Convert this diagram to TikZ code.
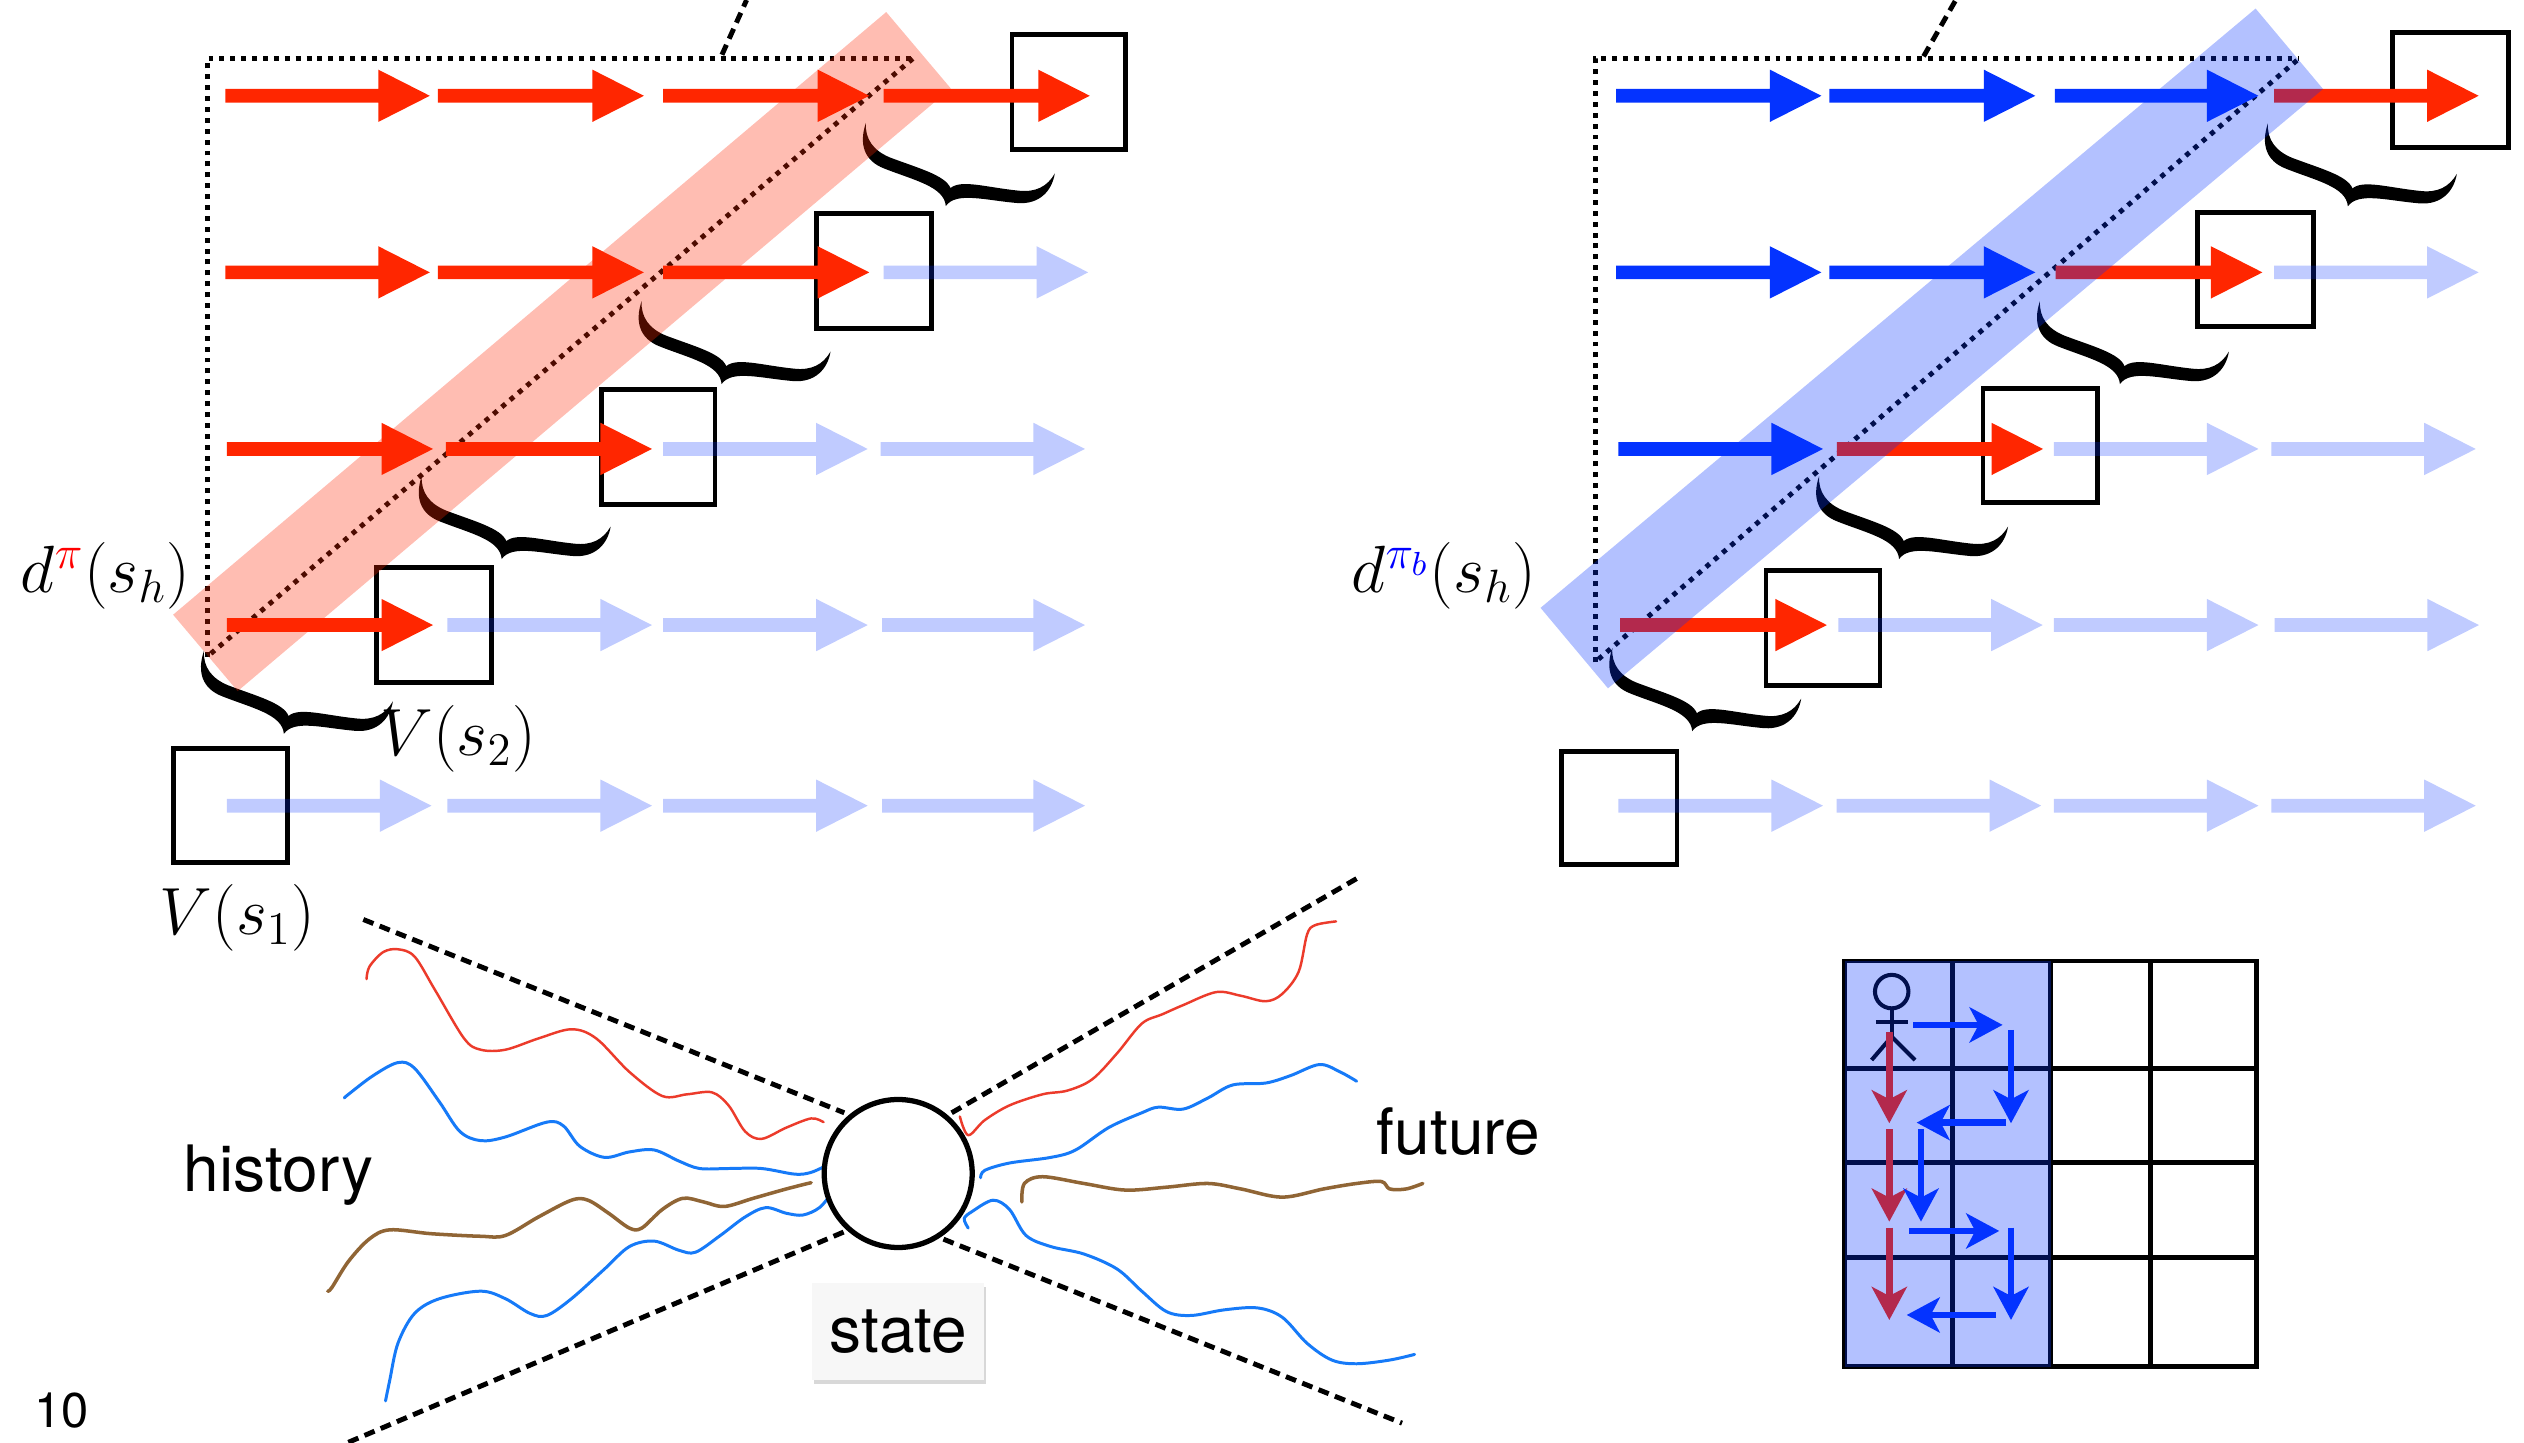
\documentclass[tikz,border=0pt]{standalone}
\usepackage{fix-cm}
\usepackage{fontspec}
\usetikzlibrary{arrows.meta,shadows}
\newfontfamily\heros{TeX Gyre Heros}

\definecolor{kred}{HTML}{FF2600}
\definecolor{kblue}{HTML}{0433FF}
\definecolor{wred}{HTML}{EC3B2B}
\definecolor{wblue}{HTML}{167AF8}
\definecolor{wbrown}{HTML}{906535}

% horizontal block arrow: style, start x, tip x, y
\newcommand{\harrow}[4]{%
  \fill[#1] (#2,{#4-4.25}) -- ({#3-32},{#4-4.25}) -- ({#3-32},{#4-16.25}) -- (#3,#4)
    -- ({#3-32},{#4+16.25}) -- ({#3-32},{#4+4.25}) -- (#2,{#4+4.25}) -- cycle;}

% heavy tilted curly brace, anchored at its upper tip
\newcommand{\curly}[2]{%
  \fill[black,shift={(#1,#2)},rotate=-14.5]
    (0,0) .. controls (-1,14) and (5,23) .. (18,24.5)
    .. controls (38,27) and (57,26) .. (61,37.5)
    .. controls (65,27) and (84,28) .. (104,24.5)
    .. controls (117,22) and (122.5,12) .. (121.5,1)
    .. controls (119,10) and (113,15.5) .. (102,17)
    .. controls (82,20) and (66,19) .. (61,26)
    .. controls (56,19) and (38,19) .. (20,17)
    .. controls (9,15.5) and (2,10) .. (0,0) -- cycle;}

\begin{document}
\begin{tikzpicture}[x=0.0161cm,y=-0.0161cm,
  vbox/.style={draw=black,line width=1.4pt},
  guide/.style={line width=1.4pt,dash pattern=on 1.4pt off 1.7pt},
  cone/.style={line width=1.4pt,dash pattern=on 3.1pt off 1.9pt},
  redfill/.style={fill=kred},
  bluefill/.style={fill=kblue},
  palefill/.style={fill=kblue,fill opacity=0.25},
  band/.style={opacity=0.3},
  mlabel/.style={inner sep=0pt,font=\fontsize{19}{21}\selectfont},
  slabel/.style={inner sep=0pt,font=\heros\fontsize{18.2}{20}\selectfont},
  gridline/.style={line width=1.35pt},
  garrow/.style={line width=1.9pt,-{Stealth[length=0.33cm,width=0.35cm,inset=0.09cm]}},
  wave/.style={line cap=round,line join=round},
]
\fill[white] (0,0) rectangle (1568,896);
\useasboundingbox (0,0) rectangle (1568,896);

% ---------------- left panel: rollouts of pi ----------------
\draw[vbox] (107.5,465) rectangle (178.6,536);
\draw[vbox] (233.7,352.7) rectangle (305.2,424);
\draw[vbox] (373.6,242.2) rectangle (444.2,313.5);
\draw[vbox] (507,132.5) rectangle (578.6,204);
\draw[vbox] (628.7,21.4) rectangle (699.3,92.6);

\curly{126.7}{404.3}
\curly{262}{295.7}
\curly{398.6}{187}
\curly{537.9}{76.4}

\draw[guide] (128.9,407.9) -- (128.9,36.3) -- (567.2,36.3);
\draw[guide] (131,406) -- (567.2,36.3);
\draw[cone] (448.5,34) -- (463.8,0);

\harrow{redfill}{140}{267}{59.5}
\harrow{redfill}{272}{400}{59.5}
\harrow{redfill}{412}{540}{59.5}
\harrow{redfill}{549}{677}{59.5}
\harrow{redfill}{140}{267}{169.2}
\harrow{redfill}{272}{400}{169.2}
\harrow{redfill}{412}{540}{169.2}
\harrow{palefill}{549}{676}{169.2}
\harrow{redfill}{141}{269}{278.9}
\harrow{redfill}{277}{405}{278.9}
\harrow{palefill}{412}{539}{278.9}
\harrow{palefill}{547}{674}{278.9}
\harrow{redfill}{141}{269}{388.3}
\harrow{palefill}{278}{405}{388.3}
\harrow{palefill}{412}{539}{388.3}
\harrow{palefill}{548}{674}{388.3}
\harrow{palefill}{141}{268}{500.5}
\harrow{palefill}{278}{405}{500.5}
\harrow{palefill}{412}{539}{500.5}
\harrow{palefill}{548}{674}{500.5}

\draw[band,draw=kred,line width=1cm] (127.6,405.6) -- (570.6,31.2);

\node[mlabel] (dpi) at (65.6,358) {$d^{\textcolor{red}{\pi}}(s_h)$};
\node[mlabel] (vtwo) at (284.7,458.7) {$V(s_2)$};
\node[mlabel] (vone) at (147.5,570) {$V(s_1)$};

% ---------------- right panel: rollouts of pi_b ----------------
\draw[vbox] (970,466.7) rectangle (1041.8,537.2);
\draw[vbox] (1097.1,354.5) rectangle (1167.9,425.7);
\draw[vbox] (1231.9,241.2) rectangle (1303.2,312.4);
\draw[vbox] (1365.2,131.8) rectangle (1437,203);
\draw[vbox] (1486.4,20.3) rectangle (1558.2,91.6);

\curly{1001.6}{402.6}
\curly{1130.1}{295.7}
\curly{1267.3}{187}
\curly{1408.9}{76.6}

\draw[guide] (990.9,411.5) -- (990.9,36.3) -- (1428.3,36.3);
\draw[guide] (993,409.5) -- (1428.3,36.3);
\draw[cone] (1195,35) -- (1215,0);

\harrow{bluefill}{1004}{1131.5}{59.5}
\harrow{bluefill}{1136.4}{1264.4}{59.5}
\harrow{bluefill}{1276.5}{1403}{59.5}
\harrow{redfill}{1412.8}{1539.8}{59.5}
\harrow{bluefill}{1004}{1131.5}{169.2}
\harrow{bluefill}{1136.4}{1264.4}{169.2}
\harrow{redfill}{1277}{1405.5}{169.2}
\harrow{palefill}{1412.8}{1539.8}{169.2}
\harrow{bluefill}{1005.4}{1132.5}{278.9}
\harrow{redfill}{1141.2}{1269.2}{278.9}
\harrow{palefill}{1276}{1403}{278.9}
\harrow{palefill}{1411}{1538}{278.9}
\harrow{redfill}{1006.4}{1134.9}{388.3}
\harrow{palefill}{1142}{1269}{388.3}
\harrow{palefill}{1276}{1403}{388.3}
\harrow{palefill}{1413}{1540}{388.3}
\harrow{palefill}{1005.4}{1132.5}{500.5}
\harrow{palefill}{1141}{1268}{500.5}
\harrow{palefill}{1276}{1403}{500.5}
\harrow{palefill}{1411}{1538}{500.5}

\draw[band,draw=kblue,line width=1.05cm] (978,402.6) -- (1422.2,30.3);

\node[mlabel] (dpib) at (897,358) {$d^{\textcolor{blue}{\pi_b}}(s_h)$};

% ---------------- history / future around a state ----------------
\draw[cone] (225.7,571.2) -- (524.5,691.3);
\draw[cone] (216.4,896) -- (524.5,765.2);
\draw[cone] (591.2,691.3) -- (842.8,545.8);
\draw[cone] (586.1,769.8) -- (871,884.1);

\draw[wave,wred,line width=0.7pt] plot[smooth,tension=0.55] coordinates {
 (227.7,608.2) (229.5,600.5) (238,591.5) (247.2,589.7) (257.6,594.3) (270.3,615.1)
 (288.3,645.1) (298.6,652.1) (314,652.1) (334.5,645.1) (355,639.4) (370.4,645.1)
 (391,665.9) (411.5,680.9) (426.9,679.8) (442.3,678.6) (452.6,686.7) (462.9,702.9)
 (473.1,707.5) (488.5,700.5) (503.9,694.8) (511.6,697.1)};
\draw[wave,wblue,line width=0.85pt] plot[smooth,tension=0.55] coordinates {
 (213.9,682.1) (216.5,679.8) (231.8,668.2) (247.2,660.1) (257.5,663.6) (272.9,684.4)
 (285.7,702.9) (298.6,708.6) (314,706.3) (339.7,697.1) (350,699.4) (360.2,712.1)
 (375.6,719) (391,715.6) (406.4,714.4) (421.8,721.3) (434.6,725.9) (452.6,725.9)
 (473.1,725.9) (493.7,729.4) (503.9,728.3) (514.2,723.6)};
\draw[wave,wbrown,line width=1.0pt] plot[smooth,tension=0.55] coordinates {
 (203.6,802.1) (206.2,799.8) (216.4,783.7) (229.3,769.8) (242.1,764) (267.8,766.4)
 (298.6,768) (314,767.5) (334.5,756) (355,745.6) (365.3,745.6) (378.1,753.7)
 (391,762.9) (398.7,762.9) (411.5,751.3) (424.3,744.4) (437.2,746.7) (450,749.5)
 (468,744.4) (488.5,738.6) (503.9,734.7)};
\draw[wave,wblue,line width=0.85pt] plot[smooth,tension=0.55] coordinates {
 (239.5,870.3) (242.1,857.6) (247.2,834.5) (257.5,816) (272.9,806.8) (298.6,802.1)
 (314,806.8) (329.4,816) (339.7,817.2) (355,806.8) (375.6,788.3) (391,774.4)
 (406.4,771) (421.8,776.7) (432.1,777.9) (447.5,767.5) (462.9,756) (475.7,750.2)
 (488.5,753.7) (498.8,754.8) (509.1,750.2) (516.8,741)};

\draw[wave,wred,line width=0.7pt] plot[smooth,tension=0.55] coordinates {
 (596.3,693.6) (601.5,705.2) (611.7,695.9) (627.1,686.7) (647.7,679.8) (663.1,677.5)
 (678.5,670.5) (693.9,654.4) (709.3,635.9) (722.1,630.1) (735,624.4) (755.5,616.3)
 (770.9,618.6) (786.3,622) (796.6,617.4) (806.8,603.6) (812,580.5) (817.1,574.7)
 (830,572.4)};
\draw[wave,wblue,line width=0.85pt] plot[smooth,tension=0.55] coordinates {
 (609.2,731.7) (611.7,727.1) (627.1,722.5) (652.8,719) (668.2,714.4) (688.7,700.5)
 (709.3,691.3) (719.6,687.8) (735,689) (750.4,682.1) (765.8,674) (786.3,672.8)
 (801.7,668.2) (819.7,661.3) (832.5,665.9) (842.8,671.7)};
\draw[wave,wbrown,line width=1.0pt] plot[smooth,tension=0.55] coordinates {
 (634.8,746.7) (636.4,735.2) (647.7,731) (673.3,735.2) (699,739.3) (724.8,737.5)
 (750.4,735.2) (770.9,738.6) (796.6,743.7) (822.2,738.6) (842.8,735.2) (858.2,734)
 (863.3,738.6) (873.6,738.6) (883.9,735.2)};
\draw[wave,wblue,line width=0.85pt] plot[smooth,tension=0.55] coordinates {
 (601.5,762.9) (599,757) (604.1,752.5) (616.9,745.6) (627.1,751.3) (637.4,767.5)
 (652.8,774.4) (673.3,779) (693.9,788.3) (709.3,802.1) (724.7,814.8) (740.1,817.2)
 (760.6,813.7) (781.2,812.5) (796.6,818.3) (812,834.5) (827.4,844.9) (842.8,847.2)
 (863.3,844.9) (878.8,841.4)};

\node[circle,draw=black,line width=1.5pt,fill=white,minimum size=1.48cm,inner sep=0pt]
  (state) at (558,729) {};
\node[slabel,fill=white!97!black,minimum width=1.72cm,minimum height=0.97cm,
  drop shadow={shadow xshift=0.5pt,shadow yshift=-1.2pt,opacity=0.3}]
  (statelbl) at (558,827) {state};
\node[slabel] (hist) at (173,730) {history};
\node[slabel] (fut) at (906,703) {future};
\node[inner sep=0pt,font=\heros\fontsize{13.9}{15}\selectfont] (pagenum) at (38.3,876) {10};

% ---------------- gridworld ----------------
\draw[gridline] (1146,597) rectangle (1402,849);
\foreach \gx in {1213,1274,1336} \draw[gridline] (\gx,597) -- (\gx,849);
\foreach \gy in {664,722,781} \draw[gridline] (1146,\gy) -- (1402,\gy);

% agent
\draw[line width=1.15pt] (1175.2,616) circle[radius=10.4];
\draw[line width=1.15pt] (1175.2,626.4) -- (1175.2,644);
\draw[line width=1.15pt] (1165.4,634.7) -- (1185.5,634.7);
\draw[line width=1.15pt] (1162.7,658.5) -- (1175.2,644) -- (1189.7,658.5);

\draw[garrow,kred] (1173.7,640.9) -- (1173.7,697.8);
\draw[garrow,kred] (1173.7,701.5) -- (1173.7,758.9);
\draw[garrow,kred] (1173.7,762.6) -- (1173.7,820);

\draw[garrow,kblue] (1188.6,636.7) -- (1244.1,636.7);
\draw[garrow,kblue] (1249.3,639.8) -- (1249.3,697.8);
\draw[garrow,kblue] (1246.2,697.4) -- (1190.7,697.4);
\draw[garrow,kblue] (1193.4,701.5) -- (1193.4,758.9);
\draw[garrow,kblue] (1186.1,764.7) -- (1242,764.7);
\draw[garrow,kblue] (1249.3,762.6) -- (1249.3,820);
\draw[garrow,kblue] (1240,816.9) -- (1184.5,816.9);

\fill[kblue,opacity=0.3] (1146,597) rectangle (1274,849);
\end{tikzpicture}
\end{document}
